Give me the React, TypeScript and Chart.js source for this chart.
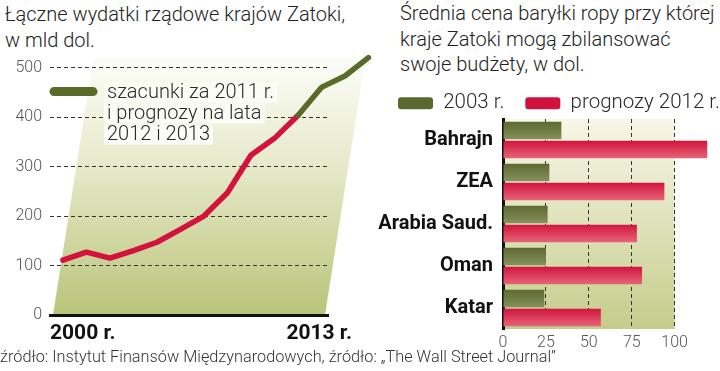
import React, { useEffect, useRef } from "react";
import { Chart, registerables } from "chart.js";
Chart.register(...registerables);

// ---------- data: left chart ----------
const YEARS = [2000, 2001, 2002, 2003, 2004, 2005, 2006, 2007, 2008, 2009, 2010, 2011, 2012, 2013];
const SPENDING = [111, 127, 115, 130, 147, 173, 200, 247, 323, 357, 403, 460, 483, 520];
const ESTIMATE_FROM_INDEX = 10; // segment starting at 2010 point is estimate/forecast
const LEFT_TITLE = ["Łączne wydatki rządowe krajów Zatoki,", "w mld dol."];
const LEFT_X_LABELS = ["2000 r.", "2013 r."];
const LEFT_LEGEND_LINES = ["szacunki za 2011 r.", "i prognozy na lata", "2012 i 2013"];

// ---------- data: right chart ----------
const COUNTRIES = ["Bahrajn", "ZEA", "Arabia Saud.", "Oman", "Katar"];
const PRICE_2003 = [34, 27, 26, 25, 24];
const PRICE_2012 = [119, 94, 78, 81, 57];
const SERIES_NAMES = ["2003 r.", "prognozy 2012 r."];
const RIGHT_TITLE = ["Średnia cena baryłki ropy przy której", "kraje Zatoki mogą zbilansować", "swoje budżety, w dol."];

const FOOTER = "źródło: Instytut Finansów Międzynarodowych, źródło: „The Wall Street Journal”";

const FONT = "Roboto, 'Noto Sans', sans-serif";
const RED = "#d3123d";
const GREEN = "#5a6a29";

function LeftChart() {
  const ref = useRef<HTMLCanvasElement>(null);
  useEffect(() => {
    const bgPlugin = {
      id: "leftBg",
      beforeDraw(chart: any) {
        const { ctx, chartArea, scales } = chart;
        const xs = scales.x, ys = scales.y;
        const bottom = chartArea.bottom;
        const topY = ys.getPixelForValue(SPENDING[SPENDING.length - 1]);
        const bl = chartArea.left + 3;
        const br = chartArea.right - 3;
        const tr = xs.getPixelForValue(YEARS[YEARS.length - 1]) - 3;
        const shift = tr - br;
        const g = ctx.createLinearGradient(0, bottom, 0, topY);
        g.addColorStop(0, "#b9c479");
        g.addColorStop(0.55, "#e4e8c6");
        g.addColorStop(1, "#fdfdf8");
        ctx.save();
        ctx.beginPath();
        ctx.moveTo(bl, bottom);
        ctx.lineTo(br, bottom);
        ctx.lineTo(tr, topY);
        ctx.lineTo(bl + shift, topY);
        ctx.closePath();
        ctx.fillStyle = g;
        ctx.fill();
        ctx.restore();
      },
    };
    const legendPlugin = {
      id: "leftLegend",
      afterDatasetsDraw(chart: any) {
        const { ctx, chartArea } = chart;
        const x0 = chartArea.left;
        const y0 = chartArea.top;
        ctx.save();
        ctx.strokeStyle = GREEN;
        ctx.lineWidth = 9;
        ctx.lineCap = "round";
        ctx.beginPath();
        ctx.moveTo(x0 + 4, y0 + 24);
        ctx.lineTo(x0 + 43, y0 + 24);
        ctx.stroke();
        ctx.font = `300 20px ${FONT}`;
        ctx.textBaseline = "alphabetic";
        ctx.textAlign = "left";
        LEFT_LEGEND_LINES.forEach((t, i) => {
          const by = y0 + 30 + i * 21;
          const w = ctx.measureText(t).width;
          ctx.fillStyle = "#fcfcf6";
          ctx.fillRect(x0 + 54, by - 15, w + 6, 20);
          ctx.fillStyle = "#2a2a2a";
          ctx.fillText(t, x0 + 57, by);
        });
        ctx.restore();
      },
    };
    const chart = new Chart(ref.current!, {
      type: "line",
      data: {
        datasets: [
          {
            data: YEARS.map((y, i) => ({ x: y, y: SPENDING[i] })),
            borderColor: RED,
            borderWidth: 5.5,
            pointRadius: 0,
            tension: 0,
            clip: false,
            borderCapStyle: "round",
            borderJoinStyle: "round",
            segment: {
              borderColor: (c: any) => (c.p0DataIndex >= ESTIMATE_FROM_INDEX ? GREEN : RED),
            },
          } as any,
        ],
      },
      options: {
        animation: false,
        responsive: false,
        maintainAspectRatio: false,
        layout: { padding: { top: 15, right: 44, left: 0, bottom: 0 } },
        plugins: { legend: { display: false }, tooltip: { enabled: false } },
        scales: {
          x: {
            type: "linear",
            bounds: "data",
            afterDataLimits: (s: any) => {
              // visible window of the time axis (the last years run past the plot edge)
              s.min = YEARS[0] - 0.55;
              s.max = YEARS[0] + 11.28;
            },
            ticks: { display: false },
            grid: { display: false },
            border: { display: true, color: "#111", width: 3 },
            afterFit: (s: any) => {
              s.height = 30;
            },
          } as any,
          y: {
            min: 0,
            max: 500,
            ticks: {
              stepSize: 100,
              color: "#555",
              padding: 8,
              font: { family: FONT, size: 16, weight: "300" as any },
            },
            grid: { color: "#333", lineWidth: 1, drawTicks: false },
            border: { display: false, dash: [4, 3] },
            afterFit: (s: any) => {
              s.width = 50;
            },
          },
        },
      },
      plugins: [bgPlugin, legendPlugin],
    });
    return () => chart.destroy();
  }, []);
  return (
    <canvas
      ref={ref}
      width={372}
      height={295}
      style={{ position: "absolute", left: 0, top: 50, width: 372, height: 295 }}
    />
  );
}

function barFill(dark: string, light: string, lower: boolean) {
  return (c: any) => {
    const chart = c.chart;
    const ya = chart.scales && chart.scales.y;
    const area = chart.chartArea;
    if (c.type !== "data" || !ya || !area) return dark;
    const center = ya.getPixelForValue(c.dataIndex);
    const pitch = (area.bottom - area.top) / COUNTRIES.length;
    const top = lower ? center : center - pitch * 0.45;
    const bottom = top + pitch * 0.45;
    const g = chart.ctx.createLinearGradient(0, top, 0, bottom);
    g.addColorStop(0, dark);
    g.addColorStop(1, light);
    return g;
  };
}

function RightChart() {
  const ref = useRef<HTMLCanvasElement>(null);
  useEffect(() => {
    const bgPlugin = {
      id: "rightBg",
      beforeDraw(chart: any) {
        const { ctx, chartArea, scales } = chart;
        const x0 = scales.x.getPixelForValue(0);
        const x1 = scales.x.getPixelForValue(100);
        const g = ctx.createLinearGradient(0, chartArea.top, 0, chartArea.bottom);
        g.addColorStop(0, "#f8f7e8");
        g.addColorStop(1, "#c5cc8b");
        ctx.save();
        ctx.fillStyle = g;
        ctx.fillRect(x0, chartArea.top, x1 - x0, chartArea.bottom - chartArea.top);
        ctx.restore();
      },
    };
    const legendFit = {
      id: "legendFit",
      beforeInit(chart: any) {
        const legend = chart.legend;
        if (!legend) return;
        const orig = legend.fit;
        legend.fit = function () {
          // keep both legend items on one row, and a compact legend block
          const mw = this.maxWidth;
          this.maxWidth = mw + 200;
          orig.call(this);
          this.maxWidth = mw;
          this.width = Math.min(this.width, mw);
          this.height = 47;
        };
      },
      afterLayout(chart: any) {
        const legend = chart.legend;
        if (!legend) return;
        // let the single legend row run to the canvas edge without wrapping
        legend.right = legend.left + 1000;
        legend.width = 1000;
      },
    };
    const chart = new Chart(ref.current!, {
      type: "bar",
      data: {
        labels: COUNTRIES,
        datasets: [
          {
            label: SERIES_NAMES[0],
            data: PRICE_2003,
            backgroundColor: barFill("#5b682f", "#87925d", false),
          },
          {
            label: SERIES_NAMES[1],
            data: PRICE_2012,
            backgroundColor: barFill("#d0113b", "#e7677a", true),
          },
        ],
      },
      options: {
        indexAxis: "y",
        animation: false,
        responsive: false,
        maintainAspectRatio: false,
        layout: { padding: { left: 17, right: 11, top: 0, bottom: 0 } },
        datasets: { bar: { categoryPercentage: 0.9, barPercentage: 0.92 } } as any,
        plugins: {
          tooltip: { enabled: false },
          legend: {
            display: true,
            position: "top",
            align: "start",
            labels: {
              boxWidth: 35,
              boxHeight: 12,
              padding: 21,
              color: "#2a2a2a",
              useBorderRadius: true,
              borderRadius: 3,
              font: { family: FONT, size: 20.5, weight: "300" as any, lineHeight: 1 },
            },
          },
        },
        scales: {
          x: {
            min: 0,
            max: 120,
            ticks: {
              stepSize: 25,
              includeBounds: false,
              color: "#555",
              padding: 4,
              font: { family: FONT, size: 16, weight: "300" as any },
            },
            grid: {
              color: (c: any) => (c.tick && c.tick.value === 0 ? "rgba(0,0,0,0)" : "#333"),
              lineWidth: 1,
              drawTicks: false,
            },
            border: { display: false, dash: [4, 3] },
            afterFit: (s: any) => {
              s.height = 25;
            },
          },
          y: {
            ticks: {
              color: "#111",
              padding: 10,
              font: { family: FONT, size: 20, weight: "bold" as any },
            },
            grid: { display: false, drawTicks: false },
            border: { display: true, color: "#111", width: 3 },
            afterFit: (s: any) => {
              s.width = 126;
            },
          },
        },
      },
      plugins: [bgPlugin, legendFit],
    });
    return () => chart.destroy();
  }, []);
  return (
    <canvas
      ref={ref}
      width={360}
      height={282}
      style={{ position: "absolute", left: 360, top: 72, width: 360, height: 282 }}
    />
  );
}

export default function App() {
  const titleStyle: React.CSSProperties = {
    position: "absolute",
    fontFamily: FONT,
    fontWeight: 300,
    fontSize: 20,
    lineHeight: "26px",
    color: "#222",
    whiteSpace: "nowrap",
  };
  const xLabelStyle: React.CSSProperties = {
    position: "absolute",
    top: 320,
    fontFamily: FONT,
    fontWeight: 700,
    fontSize: 21,
    lineHeight: "24px",
    color: "#111",
  };
  return (
    <div
      style={{
        position: "absolute",
        left: 0,
        top: 0,
        width: 720,
        height: 371,
        background: "#fff",
        overflow: "hidden",
      }}
    >
      <div style={{ ...titleStyle, left: 5, top: 1 }}>
        {LEFT_TITLE.map((t) => (
          <div key={t}>{t}</div>
        ))}
      </div>
      <div style={{ ...titleStyle, left: 400, top: 1, lineHeight: "25.5px" }}>
        {RIGHT_TITLE.map((t) => (
          <div key={t}>{t}</div>
        ))}
      </div>
      <LeftChart />
      <RightChart />
      <div style={{ ...xLabelStyle, left: 50 }}>{LEFT_X_LABELS[0]}</div>
      <div style={{ ...xLabelStyle, right: 720 - 352 }}>{LEFT_X_LABELS[1]}</div>
      <div
        style={{
          position: "absolute",
          left: 0,
          top: 347,
          fontFamily: FONT,
          fontWeight: 300,
          fontSize: 16.3,
          lineHeight: "20px",
          color: "#333",
          whiteSpace: "nowrap",
        }}
      >
        {FOOTER}
      </div>
    </div>
  );
}
